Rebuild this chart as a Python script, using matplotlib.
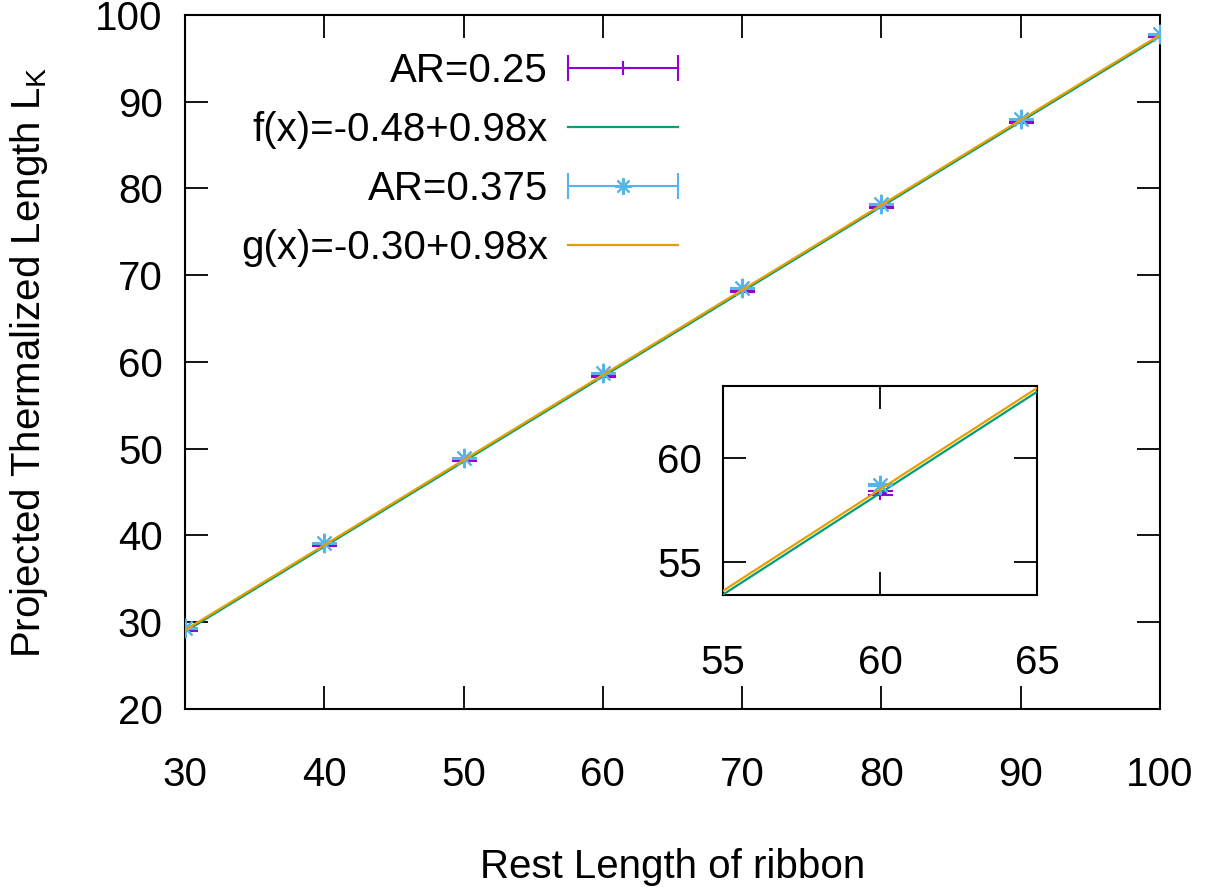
import numpy as np
import matplotlib
matplotlib.use('Agg')
import matplotlib.pyplot as plt
from matplotlib.lines import Line2D
from matplotlib.legend_handler import HandlerLine2D

plt.rcParams['font.family'] = ['Liberation Sans', 'DejaVu Sans']
plt.rcParams['mathtext.fontset'] = 'custom'
plt.rcParams['mathtext.rm'] = 'Liberation Sans'

## data
rest_len = [30, 40, 50, 60, 70, 80, 90, 100]
ar025 = [29.1, 38.9, 48.7, 58.35, 68.2, 77.9, 87.7, 97.6]
ar025_err = [0.1, 0.1, 0.1, 0.1, 0.1, 0.1, 0.1, 0.1]
ar0375 = [29.3, 39.1, 48.9, 58.7, 68.5, 78.2, 88.0, 97.8]
ar0375_err = [0.05, 0.05, 0.05, 0.05, 0.05, 0.05, 0.05, 0.05]

## fit parameters (intercept, slope)
fit_f = (-0.48, 0.98)
fit_g = (-0.30, 0.98)

purple = '#9400d3'
green = '#009e73'
cyan = '#56b4e9'
orange = '#e69f00'
fs = 29

xx = np.array(rest_len, dtype=float)


def draw(ax):
    ax.errorbar(rest_len, ar025, yerr=ar025_err, fmt='+', color=purple, ms=10, mew=1.5,
                elinewidth=1.5, capsize=9, capthick=1.5, zorder=3)
    ax.plot(xx, fit_f[0] + fit_f[1] * xx, color=green, lw=1.6, zorder=4)
    ax.errorbar(rest_len, ar0375, yerr=ar0375_err, fmt='none', color=cyan,
                elinewidth=1.5, capsize=9, capthick=1.5, zorder=5)
    ax.plot(rest_len, ar0375, ls='none', marker=(8, 2, 0), color=cyan, ms=14, mew=1.5, zorder=5)
    ax.plot(xx, fit_g[0] + fit_g[1] * xx, color=orange, lw=1.6, zorder=6)


def style(ax, xpad, ypad):
    ax.tick_params(direction='in', length=16.5, width=1.3, top=True, right=True,
                   labelsize=fs)
    ax.tick_params(axis='x', pad=xpad)
    ax.tick_params(axis='y', pad=ypad)
    for s in ax.spines.values():
        s.set_linewidth(1.5)


fig = plt.figure(figsize=(12.1, 8.88), dpi=100)
ax = fig.add_axes([185 / 1210, 1 - 709 / 888, 975 / 1210, 694 / 888])
draw(ax)
ax.set_xlim(30, 100)
ax.set_ylim(20, 100)
ax.set_xticks(range(30, 101, 10))
ax.set_yticks(range(20, 101, 10))
style(ax, 34, 16)
ax.set_xlabel('Rest Length of ribbon', fontsize=fs)
ax.xaxis.set_label_coords(0.5, -0.2)
ax.set_ylabel(r'Projected Thermalized Length $\mathregular{L_K}$', fontsize=fs)
ax.yaxis.set_label_coords(-0.138, 0.5)

## legend in gnuplot style: right-justified text, sample on the right
bar1 = Line2D([], [], color=purple, lw=1.5, marker='|', ms=19, mew=1.5)
pt1 = Line2D([], [], color=purple, ls='none', marker='+', ms=10, mew=1.5)
ln1 = Line2D([], [], color=green, lw=1.6)
bar2 = Line2D([], [], color=cyan, lw=1.5, marker='|', ms=19, mew=1.5)
pt2 = Line2D([], [], color=cyan, ls='none', marker=(8, 2, 0), ms=12, mew=1.5)
ln2 = Line2D([], [], color=orange, lw=1.6)
labels = ['AR=0.25', 'f(x)=-0.48+0.98x', 'AR=0.375', 'g(x)=-0.30+0.98x']
hm = {bar1: HandlerLine2D(numpoints=2, marker_pad=0),
      bar2: HandlerLine2D(numpoints=2, marker_pad=0)}
ax.legend([(bar1, pt1), ln1, (bar2, pt2), ln2], labels, handler_map=hm,
          loc='upper right', bbox_to_anchor=((678 - 185) / 975, (709 - 52) / 694),
          frameon=False, fontsize=fs, markerfirst=False, numpoints=1,
          handlelength=2.73, handletextpad=0.5, labelspacing=0.52,
          borderpad=0, borderaxespad=0)

## inset zoom around x=60
axi = fig.add_axes([723 / 1210, 1 - 595 / 888, 314 / 1210, 209 / 888])
draw(axi)
axi.set_xlim(55, 65)
axi.set_ylim(53.4, 63.5)
axi.set_xticks([55, 60, 65])
axi.set_yticks([55, 60])
style(axi, 35, 15)

fig.savefig('out.png', dpi=100)
